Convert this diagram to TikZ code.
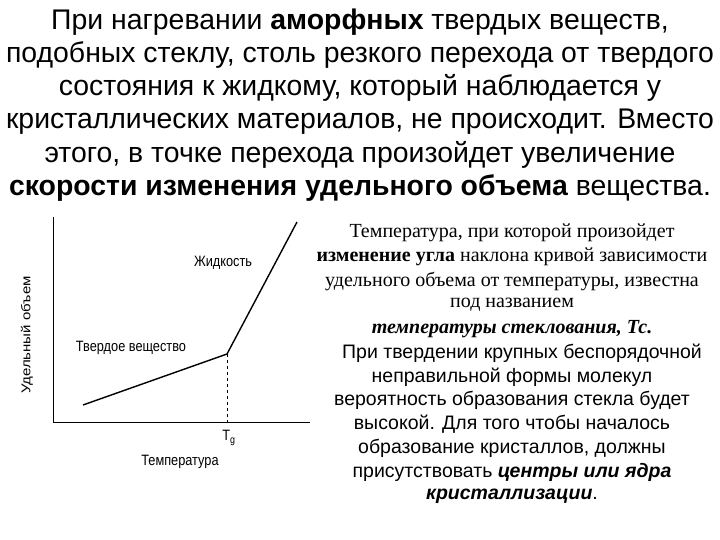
\documentclass[tikz,border=0pt]{standalone}
\usepackage{fontspec}
\setmainfont{Liberation Sans}
\newfontfamily\tnr{Liberation Serif}
\begin{document}
\begin{tikzpicture}[x=1pt,y=-1pt,
 title/.style={font=\fontsize{28.4}{32}\selectfont,anchor=center,inner sep=0},
 serif/.style={font=\tnr\fontsize{20}{22}\selectfont,anchor=center,inner sep=0},
 sans/.style={font=\fontsize{19.5}{22}\selectfont,anchor=center,inner sep=0},
 lab/.style={font=\fontsize{15}{17}\selectfont,inner sep=0,xscale=0.85},
 curve/.style={line width=1.4pt}]
\useasboundingbox (0,0) rectangle (720,540);
\fill[white] (0,0) rectangle (720,540);
\node[title] (t1) at (360,22) {При нагревании \textbf{аморфных} твердых веществ,};
\node[title] (t2) at (360,55) {подобных стеклу, столь резкого перехода от твердого};
\node[title] (t3) at (360,88) {состояния к жидкому, который наблюдается у};
\node[title] (t4) at (360,122) {кристаллических материалов, не происходит. Вместо};
\node[title] (t5) at (360,155) {этого, в точке перехода произойдет увеличение};
\node[title] (t6) at (360,188) {\textbf{скорости изменения удельного объема} вещества.};
\coordinate (o) at (53,422);
\coordinate (ytop) at (53,217);
\coordinate (xend) at (310,422);
\draw[line width=0.9pt] (ytop) -- (o) -- (xend);
\coordinate (a) at (83,405);
\coordinate (b) at (227,354);
\coordinate (c) at (297,222);
\coordinate (bb) at (227,422);
\draw[curve] (a) -- (b) -- (c);
\draw[dashed,line width=0.6pt] (b) -- (bb);
\node[lab] (tg) at (229,438) {T\textsubscript{g}};
\node[lab] (temp) at (180,462) {Температура};
\node[lab] (liq) at (223,263) {Жидкость};
\node[lab] (sol) at (131,348) {Твердое вещество};
\node[lab,rotate=90,xscale=1] (vol) at (27,335) {Удельный объем};
\node[serif] (r1) at (512,233) {Температура, при которой произойдет};
\node[serif] (r2) at (512,257) {\textbf{изменение угла} наклона кривой зависимости};
\node[serif] (r3) at (512,281) {удельного объема от температуры, известна};
\node[serif] (r4) at (512,305) {под названием};
\node[serif] (r5) at (512,329) {\textbf{\textit{температуры стеклования, Тс.}}};
\node[sans] (s1) at (522,353) {При твердении крупных беспорядочной};
\node[sans] (s2) at (512,377) {неправильной формы молекул};
\node[sans] (s3) at (512,400) {вероятность образования стекла будет};
\node[sans] (s4) at (512,424) {высокой. Для того чтобы началось};
\node[sans] (s5) at (512,448) {образование кристаллов, должны};
\node[sans] (s6) at (512,472) {присутствовать \textbf{\textit{центры или ядра}}};
\node[sans] (s7) at (512,496) {\textbf{\textit{кристаллизации}}.};
\end{tikzpicture}
\end{document}
